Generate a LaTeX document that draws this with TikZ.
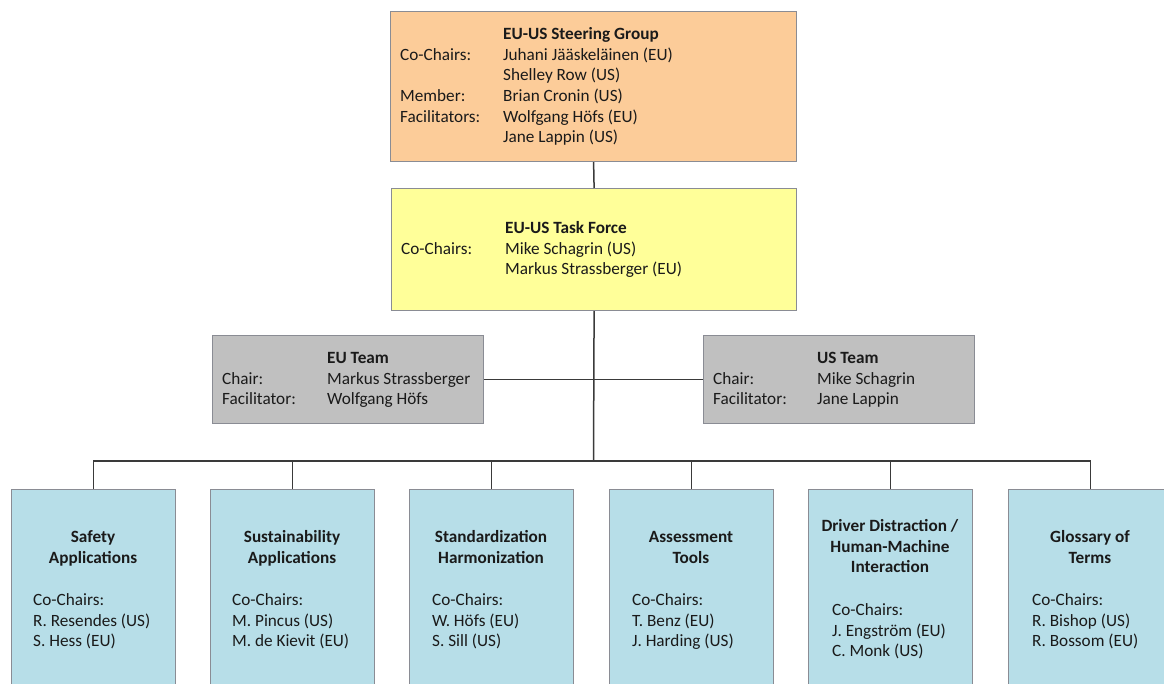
\documentclass[tikz,border=0pt]{standalone}
\usepackage{fontspec}
\setmainfont{Carlito}
\usepackage{array}
\definecolor{sgfill}{HTML}{FCCC99}
\definecolor{tffill}{HTML}{FFFF99}
\definecolor{teamfill}{HTML}{C0C0C0}
\definecolor{wgfill}{HTML}{B7DEE8}
\definecolor{boxline}{HTML}{8A8C94}
\definecolor{conn}{HTML}{3A3A3A}
\definecolor{txt}{HTML}{1A1A1A}
\newcommand\boxfont{\fontsize{17.2}{20.7}\selectfont}
\tikzset{
  orgbox/.style={draw=boxline, line width=1.2pt, rectangle, inner sep=0pt, anchor=north west},
  txtnode/.style={inner sep=0pt, font=\boxfont, text=txt},
  link/.style={draw=conn, line width=1.5pt},
}
\begin{document}
\begin{tikzpicture}[x=1pt,y=-1pt]
\useasboundingbox (0,0) rectangle (1164,684);
\clip (0,0) rectangle (1164,684);
% boxes
\node[orgbox, fill=sgfill, minimum width=406pt, minimum height=150pt] (sg) at (390,11) {};
\node[orgbox, fill=tffill, minimum width=405pt, minimum height=122pt] (tf) at (391,188) {};
\node[orgbox, fill=teamfill, minimum width=271pt, minimum height=88pt] (eu) at (212,335) {};
\node[orgbox, fill=teamfill, minimum width=271pt, minimum height=88pt] (us) at (703,335) {};
\node[orgbox, fill=wgfill, minimum width=164pt, minimum height=220pt] (b1) at (11,489) {};
\node[orgbox, fill=wgfill, minimum width=164pt, minimum height=220pt] (b2) at (210,489) {};
\node[orgbox, fill=wgfill, minimum width=164pt, minimum height=220pt] (b3) at (409,489) {};
\node[orgbox, fill=wgfill, minimum width=164pt, minimum height=220pt] (b4) at (609,489) {};
\node[orgbox, fill=wgfill, minimum width=164pt, minimum height=220pt] (b5) at (808,489) {};
\node[orgbox, fill=wgfill, minimum width=164pt, minimum height=220pt] (b6) at (1008,489) {};
% connectors
\coordinate (bus) at (593.5,461);
\draw[link] (sg.south) -- (tf.north);
\draw[link] (tf.south) -- (bus);
\draw[link] (eu.east) -- (us.west);
\draw[link] (b1.north) |- (bus) -| (b6.north);
\foreach \b in {b2,b3,b4,b5} \draw[link] (\b.north) -- (\b.north |- bus);
% texts
\node[txtnode, anchor=base west] (sgt) at (400,39.5) {\begin{tabular}[t]{@{}p{103pt}@{}l@{}}
 & \textbf{EU-US Steering Group}\\
Co-Chairs: & Juhani Jääskeläinen (EU)\\
 & Shelley Row (US)\\
Member: & Brian Cronin (US)\\
Facilitators: & Wolfgang Höfs (EU)\\
 & Jane Lappin (US)
\end{tabular}};
\node[txtnode, anchor=base west] (tft) at (401,233.5) {\begin{tabular}[t]{@{}p{104pt}@{}l@{}}
 & \textbf{EU-US Task Force}\\
Co-Chairs: & Mike Schagrin (US)\\
 & Markus Strassberger (EU)
\end{tabular}};
\node[txtnode, anchor=base west] (eut) at (222,363.5) {\begin{tabular}[t]{@{}p{105pt}@{}l@{}}
 & \textbf{EU Team}\\
Chair: & Markus Strassberger\\
Facilitator: & Wolfgang Höfs
\end{tabular}};
\node[txtnode, anchor=base west] (ust) at (713,363.5) {\begin{tabular}[t]{@{}p{104pt}@{}l@{}}
 & \textbf{US Team}\\
Chair: & Mike Schagrin\\
Facilitator: & Jane Lappin
\end{tabular}};
% working groups
\node[txtnode, anchor=base] (b1t) at (93,542.5) {\begin{tabular}[t]{@{}c@{}}\textbf{Safety}\\\textbf{Applications}\end{tabular}};
\node[txtnode, anchor=base west] (b1c) at (33,605.5) {\begin{tabular}[t]{@{}l@{}}Co-Chairs:\\R. Resendes (US)\\S. Hess (EU)\end{tabular}};
\node[txtnode, anchor=base] (b2t) at (292,542.5) {\begin{tabular}[t]{@{}c@{}}\textbf{Sustainability}\\\textbf{Applications}\end{tabular}};
\node[txtnode, anchor=base west] (b2c) at (232,605.5) {\begin{tabular}[t]{@{}l@{}}Co-Chairs:\\M. Pincus (US)\\M. de Kievit (EU)\end{tabular}};
\node[txtnode, anchor=base] (b3t) at (491,542.5) {\begin{tabular}[t]{@{}c@{}}\textbf{Standardization}\\\textbf{Harmonization}\end{tabular}};
\node[txtnode, anchor=base west] (b3c) at (432,605.5) {\begin{tabular}[t]{@{}l@{}}Co-Chairs:\\W. Höfs (EU)\\S. Sill (US)\end{tabular}};
\node[txtnode, anchor=base] (b4t) at (691,542.5) {\begin{tabular}[t]{@{}c@{}}\textbf{Assessment}\\\textbf{Tools}\end{tabular}};
\node[txtnode, anchor=base west] (b4c) at (632,605.5) {\begin{tabular}[t]{@{}l@{}}Co-Chairs:\\T. Benz (EU)\\J. Harding (US)\end{tabular}};
\node[txtnode, anchor=base] (b5t) at (890,531.5) {\begin{tabular}[t]{@{}c@{}}\textbf{Driver Distraction /}\\\textbf{Human-Machine}\\\textbf{Interaction}\end{tabular}};
\node[txtnode, anchor=base west] (b5c) at (832,615.5) {\begin{tabular}[t]{@{}l@{}}Co-Chairs:\\J. Engström (EU)\\C. Monk (US)\end{tabular}};
\node[txtnode, anchor=base] (b6t) at (1090,542.5) {\begin{tabular}[t]{@{}c@{}}\textbf{Glossary of}\\\textbf{Terms}\end{tabular}};
\node[txtnode, anchor=base west] (b6c) at (1032,605.5) {\begin{tabular}[t]{@{}l@{}}Co-Chairs:\\R. Bishop (US)\\R. Bossom (EU)\end{tabular}};
\end{tikzpicture}
\end{document}
